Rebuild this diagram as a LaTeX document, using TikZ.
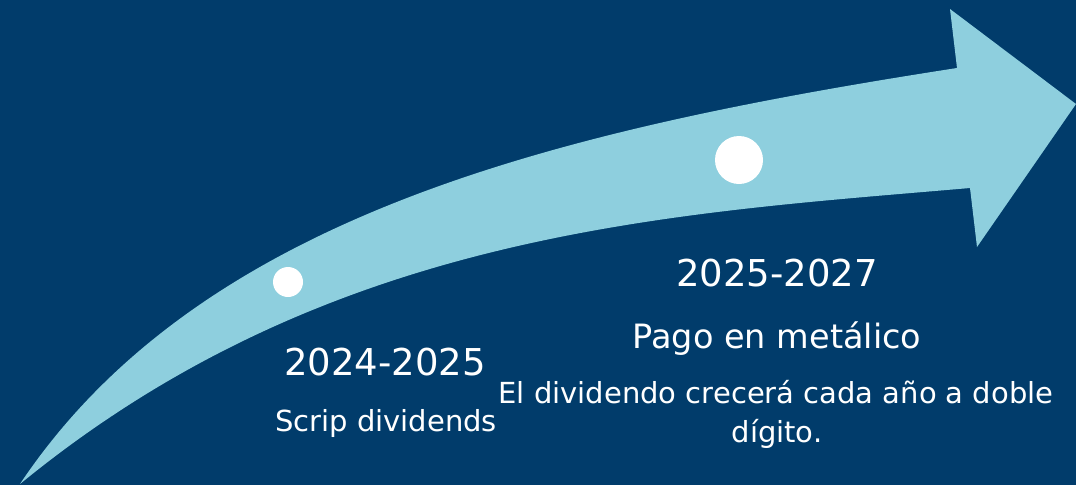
\documentclass[tikz,border=0pt]{standalone}
\usepackage{fontspec}
\setmainfont{DejaVu Sans}
\definecolor{navy}{RGB}{1,60,107}
\definecolor{lightblue}{RGB}{142,207,222}
\begin{document}
\begin{tikzpicture}[x=1pt,y=-1pt,
  yeartext/.style={text=white,anchor=base,inner sep=0pt,font=\fontsize{37}{44}\selectfont},
  headtext/.style={text=white,anchor=base,inner sep=0pt,font=\fontsize{33.5}{40}\selectfont},
  bodytext/.style={text=white,anchor=base,inner sep=0pt,font=\fontsize{29}{35}\selectfont},
  dot/.style={circle,fill=white,inner sep=0pt,minimum size=#1}]
\fill[navy] (0,0) rectangle (1076,485);
\useasboundingbox (0,0) rectangle (1076,485);
% curved arrow
\fill[lightblue] (20,484) .. controls (200,215) and (557,130) .. (957,68)
  -- (950,9) -- (1076,104) -- (977,247) -- (970,188)
  .. controls (670,214) and (330,230) .. (20,484) -- cycle;
\node[dot=30pt] (d1) at (288,282) {};
\node[dot=48pt] (d2) at (739,160) {};
\node[yeartext] (y1) at (385,375) {2024-2025};
\node[bodytext] (t1) at (386,431) {Scrip dividends};
\node[yeartext] (y2) at (777,286) {2025-2027};
\node[headtext] (h2) at (777,348) {Pago en metálico};
\node[bodytext] (t2a) at (776,403) {El dividendo crecerá cada año a doble};
\node[bodytext] (t2b) at (777,442) {dígito.};
\end{tikzpicture}
\end{document}
